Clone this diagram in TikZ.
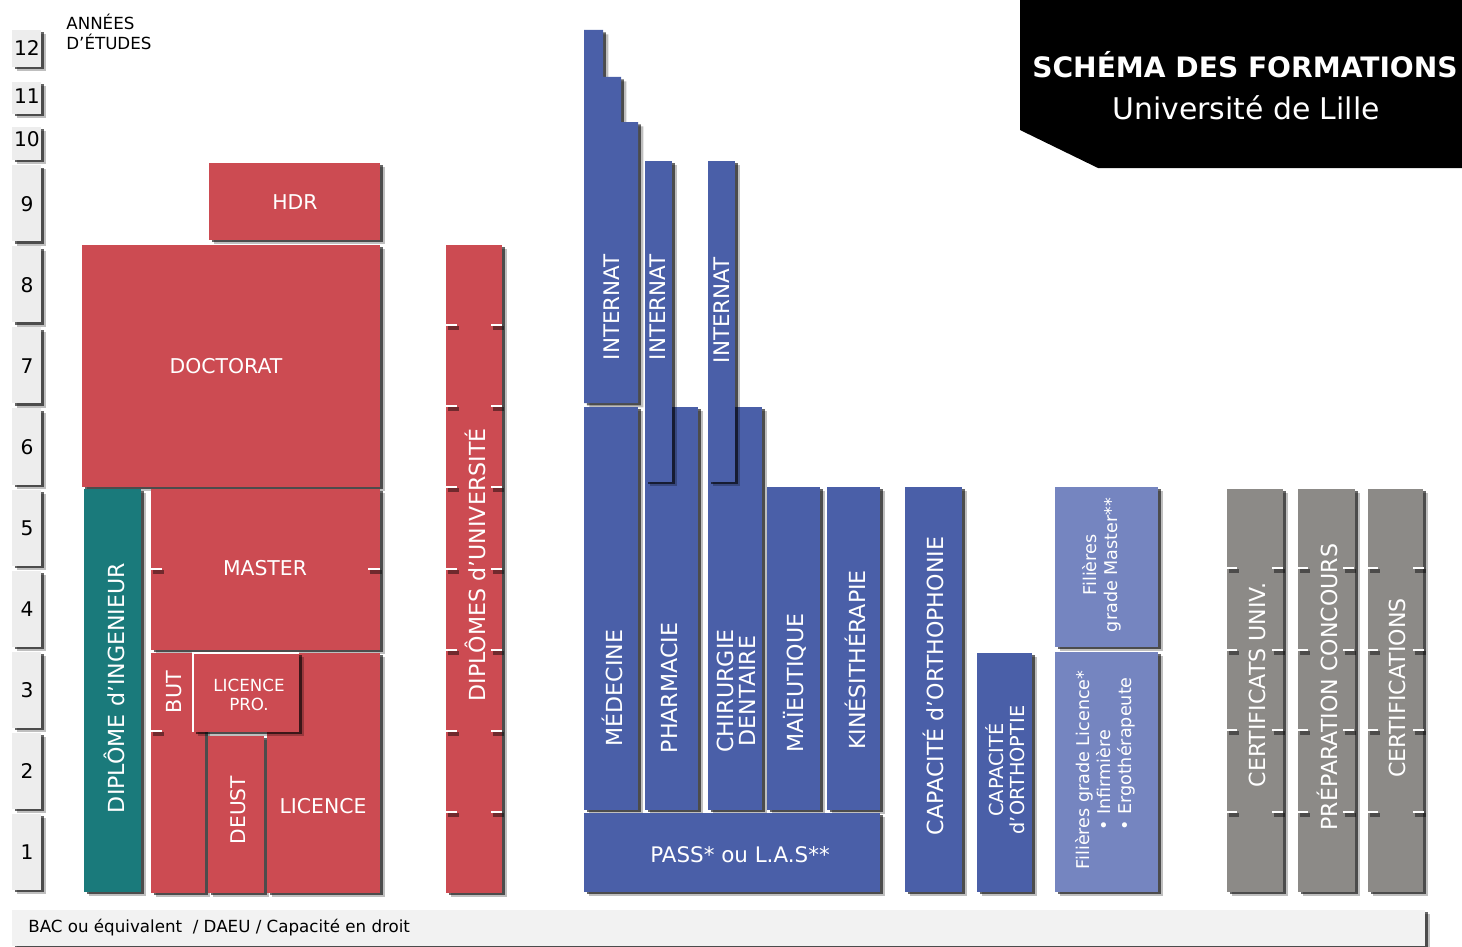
\documentclass[tikz,border=0pt]{standalone}
\usepackage{fontspec}
\setmainfont{DejaVu Sans}
\usetikzlibrary{shadows}
\definecolor{ulred}{HTML}{CC4B52}
\definecolor{ulteal}{HTML}{1A7A7B}
\definecolor{ulblue}{HTML}{4A5FA8}
\definecolor{ullight}{HTML}{7585C0}
\definecolor{ulgrey}{HTML}{8C8A87}
\definecolor{ultile}{HTML}{EDEDED}
\tikzset{
  shade box/.style={drop shadow={shadow xshift=3pt, shadow yshift=-2.5pt, opacity=.25, fill=black},
                    drop shadow={shadow xshift=1.6pt, shadow yshift=-1.4pt, opacity=.6, fill=black}},
  redbox/.style={fill=ulred, shade box},
  tealbox/.style={fill=ulteal, shade box},
  bluebox/.style={fill=ulblue, shade box},
  lightbox/.style={fill=ullight, shade box},
  greybox/.style={fill=ulgrey, shade box},
  tile/.style={fill=ultile, shade box},
  lbl/.style={text=white, font=\fontsize{11.6}{12.5}\selectfont, inner sep=0pt, align=center},
  vlbl/.style={lbl, rotate=90, font=\fontsize{12.6}{13.5}\selectfont},
  small/.style={font=\fontsize{10}{12}\selectfont},
  yearnum/.style={font=\fontsize{11.5}{13}\selectfont, inner sep=0pt},
  note/.style={font=\fontsize{9.5}{11}\selectfont, inner sep=0pt},
  tick/.style={white, line width=1.4pt,
    preaction={draw=black, opacity=.45, line width=2.6pt, transform canvas={xshift=1pt, yshift=-1.6pt}}}
}
\begin{document}
\begin{tikzpicture}[x=0.02cm, y=-0.02cm]
\useasboundingbox (0,0) rectangle (1462,946);

% years axis
\foreach \n in {1,...,9}
{
\fill[tile] (12,{893-81.1*\n+2}) rectangle (41,{893-81.1*(\n-1)-3});
\node[yearnum] (an\n) at (27,{893-81.1*(\n-0.5)}) {\n};
}
\foreach \n/\a/\b/\c in {10/127/160/139, 11/82/114/96, 12/30/67/48}
{
\fill[tile] (12,\a) rectangle (41,\b);
\node[yearnum] (an\n) at (27,\c) {\n};
}
\node[note, anchor=north west, align=left] (annees) at (66,14) {ANNÉES\\D’ÉTUDES};

% title
\fill[black] (1020,0) -- (1462,0) -- (1462,168) -- (1098,168) -- (1020,130) -- cycle;
\node[text=white, font=\bfseries\fontsize{16}{18}\selectfont] (titre) at (1245,65) {SCHÉMA DES FORMATIONS};
\node[text=white, font=\fontsize{17}{19}\selectfont] (univ) at (1246,108) {Université de Lille};

% red column
\fill[redbox] (209,163) rectangle (380,240);
\node[lbl] (hdr) at (295,202) {HDR};
\fill[redbox] (82,245) rectangle (380,487);
\node[lbl] (doctorat) at (226,366) {DOCTORAT};
\fill[tealbox] (84,489) rectangle (141,892);
\node[vlbl] (inge) at (114,688) {DIPLÔME d’INGENIEUR};
\fill[redbox] (151,489) rectangle (380,650);
\node[lbl] (master) at (265,568) {MASTER};
\fill[redbox] (151,653) rectangle (205,893);
\node[vlbl, font=\fontsize{11.8}{13}\selectfont] (but) at (174,692) {BUT};
\fill[redbox] (208,736) rectangle (264,893);
\node[vlbl, font=\fontsize{11.5}{13}\selectfont] (deust) at (238,810) {DEUST};
\fill[redbox] (267,653) rectangle (380,893);
\node[lbl] (licence) at (323,806) {LICENCE};
\fill[redbox] (193,653) rectangle (299,732);
\draw[white, line width=1pt] (193,732) -- (193,653) -- (299,653);
\node[lbl, font=\fontsize{9.5}{11}\selectfont] (lpro) at (249,695) {LICENCE\\PRO.};
\draw[tick] (151,569) -- (162,569);
\draw[tick] (368,569) -- (380,569);
\draw[tick] (151,731) -- (162,731);

% diplomes d'universite
\fill[redbox] (446,245) rectangle (502,893);
\node[vlbl] (du) at (475,565) {DIPLÔMES d’UNIVERSITÉ};
\foreach \y in {325,406,487,569,650,731,812}
{
\draw[tick] (446,\y) -- (457,\y);
\draw[tick] (491,\y) -- (502,\y);
}

% sante
\fill[bluebox] (584,403) -- (584,30) -- (603,30) -- (603,77) -- (621,77) -- (621,122) -- (638,122) -- (638,403) -- cycle;
\node[vlbl, font=\fontsize{12.2}{13}\selectfont] (intmed) at (612,307) {INTERNAT};
\fill[bluebox] (584,407) rectangle (638,810);
\node[vlbl] (medecine) at (612,688) {MÉDECINE};
\fill[bluebox] (645,407) rectangle (698,810);
\node[vlbl] (pharmacie) at (669,688) {PHARMACIE};
\fill[bluebox] (645,161) rectangle (672,482);
\node[vlbl, font=\fontsize{12.2}{13}\selectfont] (intpha) at (658,307) {INTERNAT};
\fill[bluebox] (708,407) rectangle (762,810);
\node[vlbl, font=\fontsize{12.6}{12.5}\selectfont] (dentaire) at (736,691) {CHIRURGIE\\DENTAIRE};
\fill[bluebox] (708,161) rectangle (735,482);
\node[vlbl, font=\fontsize{12.2}{13}\selectfont] (intden) at (722,310) {INTERNAT};
\fill[bluebox] (767,487) rectangle (820,810);
\node[vlbl] (maieut) at (795,683) {MAÏEUTIQUE};
\fill[bluebox] (827,487) rectangle (880,810);
\node[vlbl] (kine) at (855,660) {KINÉSITHÉRAPIE};
\fill[bluebox] (584,813) rectangle (880,892);
\node[lbl, font=\fontsize{12.2}{13}\selectfont] (pass) at (740,855) {PASS* ou L.A.S**};

% capacites
\fill[bluebox] (905,487) rectangle (962,892);
\node[vlbl] (orthophonie) at (933,686) {CAPACITÉ d’ORTHOPHONIE};
\fill[bluebox] (977,653) rectangle (1032,892);
\node[vlbl, font=\fontsize{11}{12}\selectfont] (orthoptie) at (1005,770) {CAPACITÉ\\d’ORTHOPTIE};

% filieres
\fill[lightbox] (1055,487) rectangle (1158,647);
\node[vlbl, small] (grmaster) at (1102,565) {Filières\\grade Master**};
\fill[lightbox] (1055,652) rectangle (1158,892);
\node[vlbl, small, align=left] (grlicence) at (1105,770) {Filières grade Licence*\\\hspace{2.2em}• Infirmière\\\hspace{2.2em}• Ergothérapeute};

% certificats
\fill[greybox] (1227,489) rectangle (1283,892);
\node[vlbl] (certuniv) at (1257,685) {CERTIFICATS UNIV.};
\fill[greybox] (1298,489) rectangle (1355,892);
\node[vlbl] (concours) at (1327,687) {PRÉPARATION CONCOURS};
\fill[greybox] (1368,489) rectangle (1423,892);
\node[vlbl] (certif) at (1397,688) {CERTIFICATIONS};
\foreach \x in {1227,1298,1368}
\foreach \y in {568,650,730,812}
{
\draw[tick] (\x,\y) -- (\x+10,\y);
\draw[tick] (\x+45,\y) -- (\x+56,\y);
}

% bac
\fill[tile, fill=ultile!70!white] (12,910) rectangle (1425,946);
\node[note, anchor=west] (bac) at (28,928) {BAC ou équivalent\ \ / DAEU / Capacité en droit};
\end{tikzpicture}
\end{document}
